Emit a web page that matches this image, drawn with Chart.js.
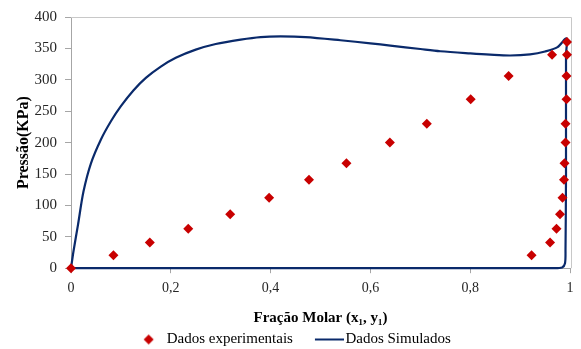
<!DOCTYPE html>
<html>
<head>
<meta charset="utf-8">
<script src="https://cdn.jsdelivr.net/npm/chart.js@4/dist/chart.umd.min.js"></script>
<style>
  html, body { margin: 0; padding: 0; background: #fff; }
</style>
</head>
<body>
<canvas id="chart" width="581" height="349"></canvas>
<script>
// experimental points: liquid branch (x1) then vapour branch (y1), pressure in kPa
const expX = [0, 0.085, 0.158, 0.235, 0.319, 0.397, 0.477, 0.552, 0.639, 0.713, 0.801, 0.877, 0.964, 0.994,
              0.923, 0.960, 0.973, 0.980, 0.985, 0.988, 0.989, 0.991, 0.991, 0.993, 0.993, 0.994];
const expP = [0, 20.5, 41, 63, 86, 112, 141, 167, 200, 230, 269, 306, 340, 360,
              20.5, 41, 63, 86, 112, 141, 167, 200, 230, 269, 306, 340];

// simulated curve (closed loop)
const simX = [0, 0.005, 0.014, 0.025, 0.04, 0.06, 0.08, 0.1, 0.125, 0.15, 0.18, 0.21, 0.25, 0.29, 0.34,
              0.38, 0.42, 0.47, 0.54, 0.6, 0.64, 0.7, 0.74, 0.8, 0.84, 0.88, 0.92, 0.95, 0.975, 0.993,
              0.992, 0.992, 0.991, 0.99, 0.984, 0.97, 0];
const simP = [0, 27, 69, 122, 167, 205, 234, 258, 283, 303, 321, 335, 348, 357, 364,
              368, 369, 368, 363, 358, 354.5, 349, 345.5, 342, 340, 338.7, 340.5, 345, 352, 366,
              340, 150, 30, 8, 1, 0, 0];

const xTicks = [0, 0.2, 0.4, 0.6, 0.8, 1];
const xTickLabels = ['0', '0,2', '0,4', '0,6', '0,8', '1'];
const yTicks = [0, 50, 100, 150, 200, 250, 300, 350, 400];

const serif = "'Liberation Serif', 'Times New Roman', serif";
const navy = '#0a2a6b';
const red = '#c80000';
const axisGray = '#a6a6a6';

function legendIcon(kind) {
  const c = document.createElement('canvas');
  c.width = 52; c.height = 12;
  const g = c.getContext('2d');
  if (kind === 'diamond') {
    g.fillStyle = red;
    g.beginPath();
    g.moveTo(35.5, 1); g.lineTo(40.5, 6); g.lineTo(35.5, 11); g.lineTo(30.5, 6);
    g.closePath(); g.fill();
  } else {
    g.strokeStyle = navy; g.lineWidth = 2;
    g.beginPath(); g.moveTo(23, 6); g.lineTo(52, 6); g.stroke();
  }
  return c;
}
const icons = [legendIcon('diamond'), legendIcon('line')];

const frame = {
  id: 'frame',
  beforeDatasetsDraw(chart) {
    const { ctx, chartArea: a } = chart;
    ctx.save();
    ctx.strokeStyle = '#c8c8c8';
    ctx.lineWidth = 1;
    ctx.beginPath();
    ctx.moveTo(a.left, a.top + 0.5);
    ctx.lineTo(a.right + 1.5, a.top + 0.5);
    ctx.lineTo(a.right + 1.5, a.bottom);
    ctx.stroke();
    ctx.restore();
  }
};

new Chart(document.getElementById('chart'), {
  type: 'scatter',
  data: {
    datasets: [{
      label: 'Dados experimentais',
      data: expX.map((x, i) => ({ x, y: expP[i] })),
      pointStyle: 'rectRot',
      pointRadius: 5,
      pointHoverRadius: 5,
      backgroundColor: red,
      borderColor: red,
      borderWidth: 0,
      clip: false
    }, {
      label: 'Dados Simulados',
      data: simX.map((x, i) => ({ x, y: simP[i] })),
      showLine: true,
      pointRadius: 0,
      pointHoverRadius: 0,
      borderColor: navy,
      borderWidth: 2.2,
      tension: 0.3,
      fill: false,
      clip: 3
    }]
  },
  options: {
    responsive: false,
    animation: false,
    events: [],
    layout: { padding: { top: 15, right: 11, left: 0, bottom: 0 } },
    plugins: {
      tooltip: { enabled: false },
      legend: {
        position: 'bottom',
        maxHeight: 22,
        labels: {
          usePointStyle: true,
          pointStyleWidth: 40,
          padding: 5,
          color: '#000',
          font: { family: serif, size: 15 },
          generateLabels: (chart) => chart.data.datasets.map((d, i) => ({
            text: d.label,
            pointStyle: icons[i],
            datasetIndex: i,
            fillStyle: 'transparent',
            strokeStyle: 'transparent',
            lineWidth: 0,
            hidden: false
          }))
        }
      }
    },
    scales: {
      x: {
        type: 'linear',
        min: 0,
        max: 1,
        afterBuildTicks: (s) => { s.ticks = xTicks.map(v => ({ value: v })); },
        border: { color: axisGray, width: 1 },
        grid: { drawOnChartArea: false, tickLength: 5, color: axisGray },
        ticks: {
          color: '#262626',
          padding: 7,
          maxRotation: 0,
          font: { family: serif, size: 14 },
          callback: (v, i) => xTickLabels[i]
        },
        title: {
          display: true,
          text: 'Fração Molar (x₁, y₁)',
          color: '#000',
          font: { family: serif, size: 15, weight: 'bold' },
          padding: { top: 5, bottom: 0 }
        }
      },
      y: {
        type: 'linear',
        min: 0,
        max: 400,
        afterFit: (s) => { s.width = 71; },
        afterBuildTicks: (s) => { s.ticks = yTicks.map(v => ({ value: v })); },
        border: { color: axisGray, width: 1 },
        grid: { drawOnChartArea: false, tickLength: 6, color: axisGray },
        ticks: {
          color: '#262626',
          padding: 8,
          font: { family: serif, size: 15 }
        },
        title: {
          display: true,
          text: 'Pressão(KPa)',
          color: '#000',
          font: { family: serif, size: 16, weight: 'bold' },
          padding: { top: 14, bottom: 0 }
        }
      }
    }
  },
  plugins: [frame]
});
</script>
</body>
</html>
